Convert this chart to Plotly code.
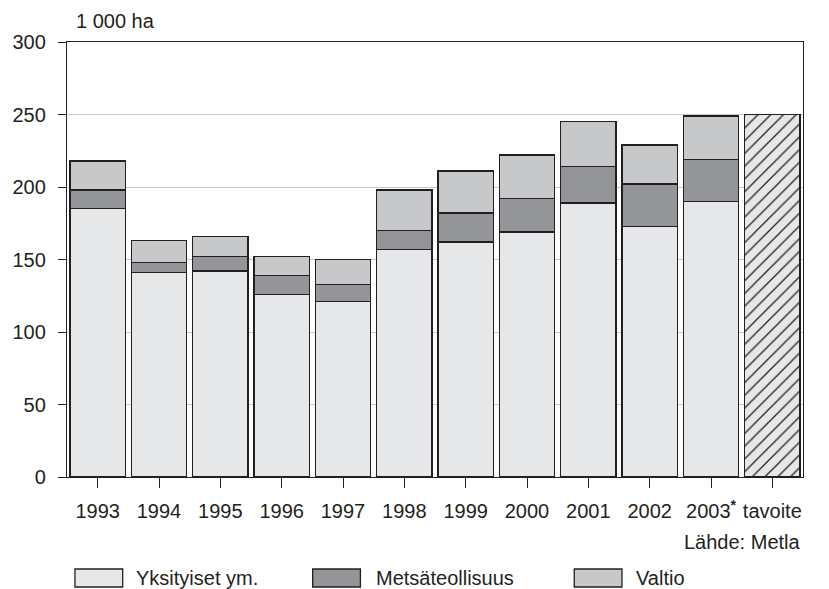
import plotly.graph_objects as go

# categories and tick labels
categories = ["1993", "1994", "1995", "1996", "1997", "1998", "1999",
              "2000", "2001", "2002", "2003", "tavoite"]
tick_labels = ["1993", "1994", "1995", "1996", "1997", "1998", "1999",
               "2000", "2001", "2002", "2003<sup><b>*</b></sup>", "tavoite"]

# 1 000 ha
yksityiset = [185, 141, 142, 126, 121, 157, 162, 169, 189, 173, 190]
metsateollisuus = [13, 7, 10, 13, 12, 13, 20, 23, 25, 29, 29]
valtio = [20, 15, 14, 13, 17, 28, 29, 30, 31, 27, 30]
tavoite = [250]

series_names = ["Yksityiset ym.", "Metsäteollisuus", "Valtio"]
colors = ["#e6e7e8", "#939598", "#c7c8ca"]
ink = "#231f20"

W, H = 829, 589
L, R, T, B = 63, 26, 42, 112
FONT = "Liberation Sans, Arial, sans-serif"


def px_x(px):
    return (px - L) / (W - L - R)


def px_y(py):
    return (H - B - py) / (H - T - B)


fig = go.Figure()
years = categories[:-1]
for name, vals, col in zip(series_names, [yksityiset, metsateollisuus, valtio], colors):
    fig.add_trace(go.Bar(
        name=name, x=years, y=vals,
        marker=dict(color=col, line=dict(color=ink, width=1.3)),
        showlegend=False,
    ))

fig.add_trace(go.Bar(
    name="tavoite", x=categories[-1:], y=tavoite,
    marker=dict(color="#e6e7e8", line=dict(color=ink, width=1.3),
                pattern=dict(shape="/", fgcolor=ink, bgcolor="#e6e7e8",
                             size=9, solidity=0.14, fillmode="replace")),
    showlegend=False,
))

# hand-made legend at the bottom
legend_pos = [(71, 130), (310, 372), (573, 633)]
for (sx, tx), name, col in zip(legend_pos, series_names, colors):
    fig.add_shape(type="rect", xref="paper", yref="paper",
                  x0=px_x(sx), x1=px_x(sx + 48), y0=px_y(569), y1=px_y(587),
                  fillcolor=col, line=dict(color=ink, width=1.3))
    fig.add_annotation(x=px_x(tx), y=px_y(578), xref="paper", yref="paper",
                       text=name, showarrow=False, xanchor="left", yanchor="middle",
                       font=dict(size=20, color=ink, family=FONT))

fig.add_annotation(x=px_x(803), y=px_y(542), xref="paper", yref="paper",
                   text="Lähde: Metla", showarrow=False, xanchor="right", yanchor="middle",
                   font=dict(size=20, color=ink, family=FONT))
fig.add_annotation(x=px_x(70), y=px_y(21), xref="paper", yref="paper",
                   text="1 000 ha", showarrow=False, xanchor="left", yanchor="middle",
                   font=dict(size=20, color=ink, family=FONT))

fig.update_layout(
    width=W, height=H,
    margin=dict(l=L, r=R, t=T, b=B),
    barmode="stack", bargap=0.1,
    plot_bgcolor="white", paper_bgcolor="white",
    font=dict(family=FONT, size=20, color=ink),
)
fig.update_xaxes(
    type="category", categoryorder="array", categoryarray=categories,
    tickvals=categories, ticktext=tick_labels,
    showline=True, linecolor=ink, linewidth=1.3, mirror=True,
    ticks="outside", ticklen=10, tickcolor=ink, tickwidth=1.3,
    ticklabelstandoff=6,
)
fig.update_yaxes(
    range=[0, 300], tickvals=[0, 50, 100, 150, 200, 250, 300],
    showgrid=True, gridcolor="#c9c9c9", gridwidth=1.3, zeroline=False,
    showline=True, linecolor=ink, linewidth=1.3, mirror=True,
    ticks="outside", ticklen=8, tickcolor=ink, tickwidth=1.3,
    ticklabelstandoff=8,
)

# page body has a default margin; drop it so the figure fills the window
fig.write_html("out.html", config={"displayModeBar": False},
               post_script="document.body.style.margin='0';")
